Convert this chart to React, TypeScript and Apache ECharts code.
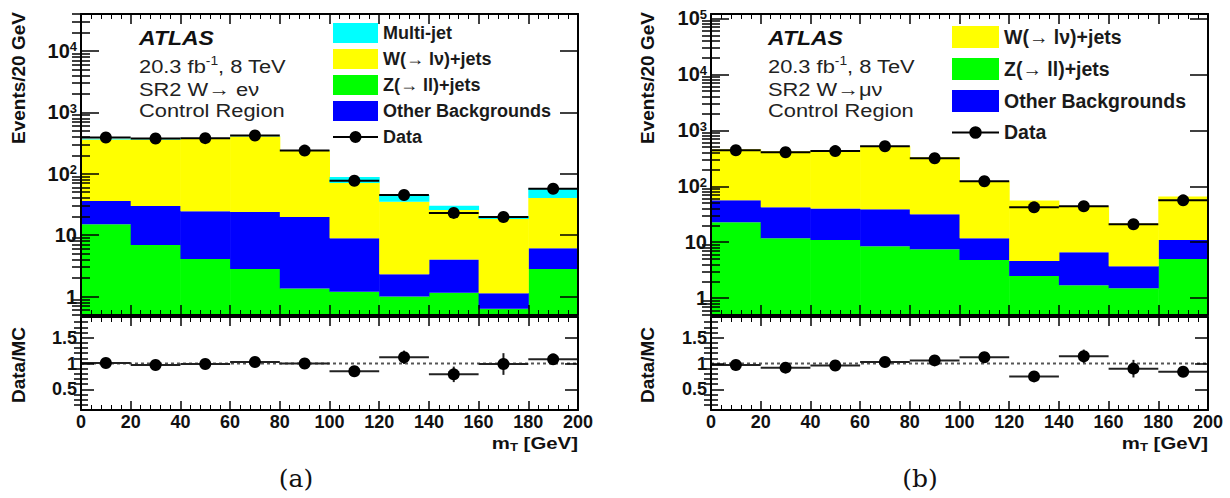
import React, { useEffect, useRef } from 'react';
import * as echarts from 'echarts';

// ---------- data ----------
const binEdges = [0, 20, 40, 60, 80, 100, 120, 140, 160, 180, 200];
const binCenters = [10, 30, 50, 70, 90, 110, 130, 150, 170, 190];

// (a) SR2 W -> e nu control region
const zjetsA = [15, 6.9, 4.1, 2.8, 1.35, 1.2, 1.0, 1.15, 0.63, 2.8];
const otherA = [21, 23, 20.5, 21, 18.3, 7.7, 1.3, 2.85, 0.5, 3.3];
const wjetsA = [325, 331, 349, 380, 218, 62, 32.7, 21.7, 17.2, 34];
const multijetA = [10, 8, 6, 6, 4, 18, 10, 4.3, 2.2, 17];
const dataA = [390, 375, 380, 420, 238, 77, 45, 23, 19.7, 57];
const ratioA = [1.01, 0.97, 0.99, 1.03, 1.0, 0.85, 1.12, 0.79, 0.99, 1.08];
const ratioErrA = [0.05, 0.05, 0.05, 0.05, 0.06, 0.1, 0.13, 0.15, 0.21, 0.1];

// (b) SR2 W -> mu nu control region
const zjetsB = [22.8, 11.8, 10.9, 8.5, 7.5, 4.8, 2.5, 1.7, 1.5, 5.0];
const otherB = [33.2, 30.2, 29.1, 30.5, 24.1, 7.0, 2.1, 4.9, 2.2, 5.9];
const wjetsB = [402, 380, 397, 479, 298, 111, 51, 37, 18, 55];
const dataB = [440, 405, 425, 520, 316, 123, 42, 44, 21, 56];
const ratioB = [0.97, 0.92, 0.96, 1.03, 1.06, 1.12, 0.75, 1.14, 0.9, 0.84];
const ratioErrB = [0.05, 0.05, 0.05, 0.05, 0.06, 0.07, 0.07, 0.13, 0.17, 0.07];

const majorTicksA = [1, 10, 100, 1000, 10000];
const majorTicksB = [1, 10, 100, 1000, 10000, 100000];
const ratioMajorTicks = [0.5, 1, 1.5];

const NAME_MJ = 'Multi-jet';
const NAME_W = 'W(→ lν)+jets';
const NAME_Z = 'Z(→ ll)+jets';
const NAME_OTHER = 'Other Backgrounds';
const NAME_DATA = 'Data';

const COL_MJ = '#00ffff';
const COL_W = '#ffff00';
const COL_Z = '#00ff00';
const COL_OTHER = '#0000ff';

const FONT = '"Liberation Sans", Arial, Helvetica, sans-serif';

function logMinorTicks(min: number, max: number): number[] {
  const out: number[] = [];
  for (let e = -1; e <= 6; e++) {
    for (let m = 2; m <= 9; m++) {
      const v = m * Math.pow(10, e);
      if (v >= min && v <= max) out.push(+v.toPrecision(6));
    }
  }
  return out;
}

function ratioMinorTicks(): number[] {
  const out: number[] = [];
  for (let i = 2; i <= 18; i++) {
    if (i % 5 !== 0) out.push(i / 10);
  }
  return out;
}

const tickLine = { color: '#000', width: 1.5 };
const axisLine = { show: true, onZero: false, lineStyle: { color: '#000', width: 2 } };

function logLabel(v: number) {
  const e = Math.round(Math.log10(v));
  if (e === 0) return '1';
  if (e === 1) return '10';
  return '10{sup|' + e + '}';
}

interface Panel {
  left: number;
  yMin: number;
  yMax: number;
  majors: number[];
  layers: { name: string; color: string; values: number[] }[];
  data: number[];
  ratio: number[];
  ratioErr: number[];
}

const TOP = 14;
const TOP_H = 301;
const RAT_TOP = 317;
const RAT_H = 93;
const WIDTH = 497;

function buildPanel(p: Panel, idx: number) {
  const g0 = idx * 2;
  const g1 = idx * 2 + 1;
  const xb = idx * 4;
  const yb = idx * 8;

  const grids = [
    { left: p.left, top: TOP, width: WIDTH, height: TOP_H, show: false },
    { left: p.left, top: RAT_TOP, width: WIDTH, height: RAT_H, show: false },
  ];

  const xBase = (gridIndex: number, position: string, labels: boolean, major: number, minor: number) => ({
    type: 'value',
    gridIndex,
    min: 0,
    max: 200,
    interval: 20,
    position,
    z: 6,
    axisLine,
    axisTick: { show: true, inside: true, length: major, lineStyle: tickLine },
    minorTick: { show: true, splitNumber: 5, length: minor, lineStyle: { color: '#000', width: 1 } },
    splitLine: { show: false },
    axisLabel: labels
      ? {
          show: true,
          fontSize: 18,
          fontWeight: 'bold',
          fontFamily: FONT,
          color: '#111',
          margin: 3,
          showMinLabel: true,
          showMaxLabel: true,
        }
      : { show: false },
  });

  const xAxes = [
    xBase(g0, 'bottom', false, 10, 5),
    xBase(g0, 'top', false, 10, 5),
    xBase(g1, 'bottom', true, 9, 5),
    xBase(g1, 'top', false, 9, 5),
  ];

  const minorsLog = logMinorTicks(p.yMin, p.yMax);
  const logAxis = (position: string, major: boolean, labels: boolean) => ({
    type: 'log',
    logBase: 10,
    gridIndex: g0,
    min: p.yMin,
    max: p.yMax,
    position,
    z: 6,
    axisLine: major ? axisLine : { show: false },
    axisTick: {
      show: true,
      inside: true,
      length: major ? 18 : 9,
      customValues: major ? p.majors : minorsLog,
      lineStyle: tickLine,
    },
    minorTick: { show: false },
    splitLine: { show: false },
    axisLabel: labels
      ? {
          show: true,
          customValues: p.majors,
          formatter: logLabel,
          fontSize: 20,
          fontWeight: 'bold',
          fontFamily: FONT,
          color: '#111',
          margin: 4,
          rich: {
            sup: { fontSize: 13, fontWeight: 'bold', fontFamily: FONT, color: '#111', verticalAlign: 'top', padding: [0, 0, 8, 0] },
          },
        }
      : { show: false },
  });

  const minorsRat = ratioMinorTicks();
  const ratAxis = (position: string, major: boolean, labels: boolean) => ({
    type: 'value',
    gridIndex: g1,
    min: 0.1,
    max: 1.9,
    position,
    z: 6,
    axisLine: major ? axisLine : { show: false },
    axisTick: {
      show: true,
      inside: true,
      length: major ? 13 : 7,
      customValues: major ? ratioMajorTicks : minorsRat,
      lineStyle: tickLine,
    },
    minorTick: { show: false },
    splitLine: { show: false },
    axisLabel: labels
      ? {
          show: true,
          customValues: ratioMajorTicks,
          formatter: (v: number) => String(v),
          fontSize: 18,
          fontWeight: 'bold',
          fontFamily: FONT,
          color: '#111',
          margin: 4,
        }
      : { show: false },
  });

  const yAxes = [
    logAxis('left', true, true),
    logAxis('left', false, false),
    logAxis('right', true, false),
    logAxis('right', false, false),
    ratAxis('left', true, true),
    ratAxis('left', false, false),
    ratAxis('right', true, false),
    ratAxis('right', false, false),
  ];

  // stacked histogram layers (bottom -> top)
  const series: any[] = [];
  const cumVals = binCenters.map(() => 0);
  p.layers.forEach((layer) => {
    const rows = binCenters.map((_, i) => {
      const lo = cumVals[i] === 0 ? p.yMin : cumVals[i];
      cumVals[i] += layer.values[i];
      return [binEdges[i], binEdges[i + 1], lo, cumVals[i]];
    });
    series.push({
      type: 'custom',
      name: layer.name,
      xAxisIndex: xb,
      yAxisIndex: yb,
      clip: true,
      z: 2,
      itemStyle: { color: layer.color },
      encode: { x: [0, 1], y: [2, 3] },
      data: rows,
      renderItem: (params: any, api: any) => {
        const a = api.coord([api.value(0), api.value(3)]);
        const b = api.coord([api.value(1), api.value(2)]);
        return {
          type: 'rect',
          shape: { x: a[0], y: a[1], width: b[0] - a[0] + 0.5, height: b[1] - a[1] },
          style: { fill: layer.color, stroke: null },
        };
      },
    });
  });

  // data points
  series.push({
    type: 'custom',
    name: NAME_DATA,
    xAxisIndex: xb,
    yAxisIndex: yb,
    clip: true,
    z: 4,
    itemStyle: { color: '#000' },
    encode: { x: 0, y: 1 },
    data: binCenters.map((c, i) => [c, p.data[i], binEdges[i], binEdges[i + 1]]),
    renderItem: (params: any, api: any) => {
      const v = api.value(1);
      const pt = api.coord([api.value(0), v]);
      const a = api.coord([api.value(2), v]);
      const b = api.coord([api.value(3), v]);
      return {
        type: 'group',
        children: [
          { type: 'line', shape: { x1: a[0], y1: a[1], x2: b[0], y2: b[1] }, style: { stroke: '#000', lineWidth: 2 } },
          { type: 'circle', shape: { cx: pt[0], cy: pt[1], r: 6 }, style: { fill: '#000' } },
        ],
      };
    },
  });

  // ratio reference line
  series.push({
    type: 'line',
    name: 'unity',
    xAxisIndex: xb + 2,
    yAxisIndex: yb + 4,
    data: [
      [0, 1],
      [200, 1],
    ],
    symbol: 'none',
    z: 2,
    silent: true,
    lineStyle: { color: '#555', width: 2, type: [3, 3] },
  });

  // ratio points
  series.push({
    type: 'custom',
    name: 'ratio',
    xAxisIndex: xb + 2,
    yAxisIndex: yb + 4,
    clip: true,
    z: 4,
    encode: { x: 0, y: 1 },
    data: binCenters.map((c, i) => [c, p.ratio[i], binEdges[i], binEdges[i + 1], p.ratioErr[i]]),
    renderItem: (params: any, api: any) => {
      const v = api.value(1);
      const e = api.value(4);
      const pt = api.coord([api.value(0), v]);
      const a = api.coord([api.value(2), v]);
      const b = api.coord([api.value(3), v]);
      const lo = api.coord([api.value(0), v - e]);
      const hi = api.coord([api.value(0), v + e]);
      return {
        type: 'group',
        children: [
          { type: 'line', shape: { x1: a[0], y1: a[1], x2: b[0], y2: b[1] }, style: { stroke: '#222', lineWidth: 2 } },
          { type: 'line', shape: { x1: lo[0], y1: lo[1], x2: hi[0], y2: hi[1] }, style: { stroke: '#222', lineWidth: 2 } },
          { type: 'circle', shape: { cx: pt[0], cy: pt[1], r: 6 }, style: { fill: '#000' } },
        ],
      };
    },
  });

  return { grids, xAxes, yAxes, series };
}

const panelA: Panel = {
  left: 81,
  yMin: 0.5,
  yMax: 40000,
  majors: majorTicksA,
  layers: [
    { name: NAME_Z, color: COL_Z, values: zjetsA },
    { name: NAME_OTHER, color: COL_OTHER, values: otherA },
    { name: NAME_W, color: COL_W, values: wjetsA },
    { name: NAME_MJ, color: COL_MJ, values: multijetA },
  ],
  data: dataA,
  ratio: ratioA,
  ratioErr: ratioErrA,
};

const panelB: Panel = {
  left: 711,
  yMin: 0.5,
  yMax: 120000,
  majors: majorTicksB,
  layers: [
    { name: NAME_Z, color: COL_Z, values: zjetsB },
    { name: NAME_OTHER, color: COL_OTHER, values: otherB },
    { name: NAME_W, color: COL_W, values: wjetsB },
  ],
  data: dataB,
  ratio: ratioB,
  ratioErr: ratioErrB,
};

const DATA_ICON =
  'path://M0,0h0.01v0.01h-0.01z M0,19.99h0.01v0.01h-0.01z M0,9h45v2h-45z M28.5,10a6,6 0 1,1 -12,0a6,6 0 1,1 12,0z';

const legendTextA = { fontSize: 18, fontWeight: 'bold', fontFamily: FONT, color: '#1a1a1a' };
const legendTextB = { fontSize: 19.5, fontWeight: 'bold', fontFamily: FONT, color: '#1a1a1a' };

function infoTexts(x: number, channel: string) {
  const base = { fontFamily: FONT, fill: '#222' };
  const sx = 1.15;
  return [
    { type: 'text', x, y: 38, scaleX: sx, style: { ...base, text: 'ATLAS', fontSize: 20, fontWeight: 'bold', fontStyle: 'italic', fill: '#111', verticalAlign: 'middle' } },
    {
      type: 'text',
      x,
      y: 66,
      scaleX: sx,
      style: {
        ...base,
        text: '20.3 fb{sup|-1}, 8 TeV',
        fontSize: 19,
        verticalAlign: 'middle',
        rich: { sup: { fontSize: 12, fontFamily: FONT, fill: '#222', verticalAlign: 'top', padding: [0, 0, 10, 0] } },
      },
    },
    { type: 'text', x, y: 89, scaleX: sx, style: { ...base, text: channel, fontSize: 19, verticalAlign: 'middle' } },
    { type: 'text', x, y: 110, scaleX: sx, style: { ...base, text: 'Control Region', fontSize: 19, verticalAlign: 'middle' } },
  ];
}

function axisTitles(xAxisY: number, left: number, right: number) {
  const f = { fontFamily: FONT, fontWeight: 'bold', fill: '#111' };
  return [
    { type: 'text', x: left + 18, y: 12, rotation: Math.PI / 2, style: { ...f, text: 'Events/20 GeV', fontSize: 19, align: 'right', verticalAlign: 'middle' } },
    { type: 'text', x: left + 18, y: 327, rotation: Math.PI / 2, style: { ...f, text: 'Data/MC', fontSize: 19, align: 'right', verticalAlign: 'middle' } },
    {
      type: 'text',
      x: right,
      y: xAxisY,
      scaleX: 1.2,
      style: {
        ...f,
        text: 'm{sub|T} [GeV]',
        fontSize: 17,
        align: 'right',
        verticalAlign: 'middle',
        rich: { sub: { fontSize: 11, fontWeight: 'bold', fontFamily: FONT, fill: '#111', verticalAlign: 'bottom', padding: [8, 0, 0, 0] } },
      },
    },
  ];
}

export default function App() {
  const ref = useRef<HTMLDivElement>(null);
  useEffect(() => {
    if (!ref.current) return;
    const chart = echarts.init(ref.current, undefined, { renderer: 'svg' });
    const a = buildPanel(panelA, 0);
    const b = buildPanel(panelB, 1);
    chart.setOption({
      animation: false,
      backgroundColor: '#fff',
      grid: [...a.grids, ...b.grids],
      xAxis: [...a.xAxes, ...b.xAxes],
      yAxis: [...a.yAxes, ...b.yAxes],
      series: [...a.series, ...b.series],
      legend: [
        {
          left: 333,
          top: 23,
          padding: 0,
          orient: 'vertical',
          itemWidth: 45,
          itemHeight: 20,
          itemGap: 6,
          icon: 'rect',
          selectedMode: false,
          textStyle: legendTextA,
          data: [NAME_MJ, NAME_W, NAME_Z, NAME_OTHER, { name: NAME_DATA, icon: DATA_ICON }],
        },
        {
          left: 952,
          top: 26,
          padding: 0,
          orient: 'vertical',
          itemWidth: 47,
          itemHeight: 22,
          itemGap: 10,
          icon: 'rect',
          selectedMode: false,
          textStyle: legendTextB,
          data: [NAME_W, NAME_Z, NAME_OTHER, { name: NAME_DATA, icon: DATA_ICON }],
        },
      ],
      graphic: [
        ...infoTexts(139, 'SR2 W→ eν'),
        ...infoTexts(768, 'SR2 W→μν'),
        ...axisTitles(443, 0, 578),
        ...axisTitles(443, 629, 1208),
        { type: 'text', x: 296, y: 478, style: { text: '(a)', fontSize: 25, fontFamily: '"DejaVu Serif", serif', fill: '#111', align: 'center', verticalAlign: 'middle' } },
        { type: 'text', x: 920, y: 478, style: { text: '(b)', fontSize: 25, fontFamily: '"DejaVu Serif", serif', fill: '#111', align: 'center', verticalAlign: 'middle' } },
      ],
    });
    return () => chart.dispose();
  }, []);
  return <div ref={ref} style={{ position: 'fixed', left: 0, top: 0, width: 1230, height: 498, background: '#fff' }} />;
}
